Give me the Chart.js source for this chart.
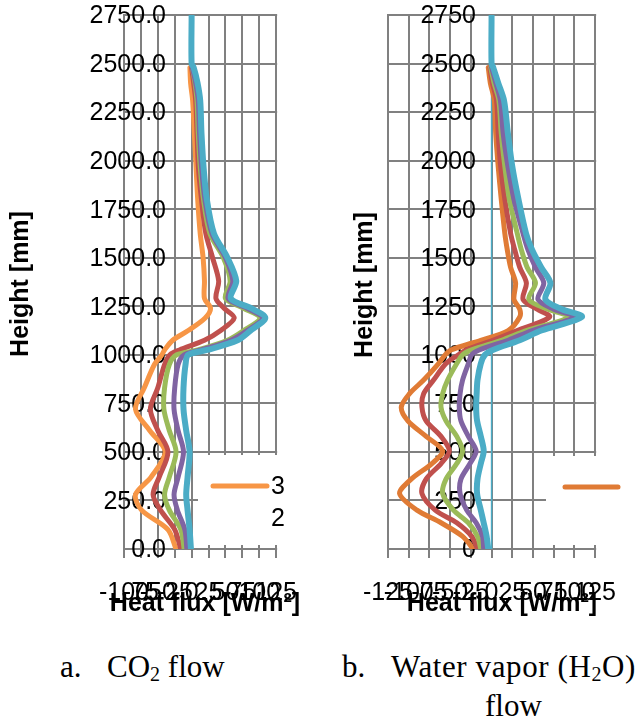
<!DOCTYPE html>
<html>
<head>
<meta charset="utf-8">
<script src="https://cdn.jsdelivr.net/npm/chart.js@4.4.1/dist/chart.umd.min.js"></script>
<style>
  body { margin: 0; background: #fff; width: 639px; height: 719px; position: relative; overflow: hidden; }
  .box { position: absolute; top: 0; height: 640px; }
  #boxA { left: 0; width: 320px; }
  #boxB { left: 320px; width: 319px; }
  .cap { position: absolute; font-family: "Liberation Serif", "Times New Roman", serif; font-size: 31px; line-height: 31px; color: #000; white-space: nowrap; }
  .cap sub { font-size: 20px; vertical-align: -4px; line-height: 0; }
</style>
</head>
<body>
<div class="box" id="boxA"><canvas id="chartA"></canvas></div>
<div class="box" id="boxB"><canvas id="chartB"></canvas></div>
<div class="cap" style="left:60px; top:651px">a.</div>
<div class="cap" style="left:107px; top:651px">CO<sub>2</sub> flow</div>
<div class="cap" style="left:342px; top:651px">b.</div>
<div class="cap" style="left:391px; top:651px; letter-spacing:0.6px">Water vapor (H<sub>2</sub>O)</div>
<div class="cap" style="left:485px; top:690px">flow</div>
<script>
const co2Heights = [0, 100, 200, 280, 370, 500, 610, 720, 830, 950, 1000, 1025, 1075, 1125, 1190, 1240, 1290, 1380, 1500, 1625, 1800, 1970, 2140, 2310, 2400, 2480, 2500, 2750];
// heat flux W/m2, CO2 flow
const co2Orange = [-23, -35, -74, -83, -60, -39, -62, -83, -70, -55, -44, -40, -28, -5, 20, 28, 19, 19, 17, 12.7, 9, 6.5, 4, 1.5, -1.5, -2.5, null, null];
const co2Red = [-16, -25, -46, -57, -48, -35, -50, -61, -50, -40, -32, -18, 19, 43, 63, 48, 36, 40, 31, 21, 14.6, 10, 8, 6, 3, 0, null, null];
const co2Green = [-11, -16, -33, -40, -33, -23, -33, -41, -40, -33, -22, 9, 53, 77, 101, 77, 50, 57, 47, 27, 17.6, 12.7, 9.8, 7.9, 5, 1, null, null];
const co2Purple = [-7, -10, -21, -26, -20, -12, -20, -26, -25, -20, -11, 14, 58, 82, 105, 82, 54, 61, 50, 30, 19.6, 14.6, 11.7, 9.8, 6, 1, null, null];
const co2Cyan = [-1, -3, -6, -8, -6, -3, -8, -12, -12, -9, -5, 23, 68, 87, 109, 88, 58, 66, 53, 33, 22.5, 17.6, 14.6, 12.7, 8.8, 3, 0, 0];

const h2oHeights = [0, 65, 135, 200, 285, 360, 440, 505, 580, 660, 730, 800, 870, 955, 1000, 1025, 1075, 1125, 1195, 1235, 1285, 1370, 1450, 1540, 1625, 1800, 1970, 2140, 2310, 2400, 2480, 2500, 2750];
// heat flux W/m2, water vapour flow
const h2oOrange = [-22, -35, -61, -90, -111, -97, -72, -59, -79, -101, -109, -99, -82, -64, -56, -49, -13, 20, 34, 34, 27, 29, 23, 19, 16, 11.7, 8, 5, 3.3, -1.5, -4, null, null];
const h2oRed = [-17, -24, -42, -68, -84, -79, -61, -51, -61, -79, -84, -82, -70, -55, -40, -31, 1.5, 31, 70, 55, 38, 42, 34, 28, 23, 16, 11, 8, 6, 1, -2, null, null];
const h2oGreen = [-13, -17, -28, -46, -59, -55, -42, -35, -42, -55, -61, -59, -53, -42, -35, -24, 12, 42, 93, 68, 45, 53, 43, 36, 31, 21.5, 16, 11.7, 8.8, 3, -1, null, null];
const h2oPurple = [-9.5, -11, -18.6, -30, -38, -37, -26, -18.6, -28, -37, -39, -38, -35, -28, -24, -15, 20, 49, 100, 75, 56, 63, 53, 44, 38, 27, 19.7, 14, 10.6, 5, 0, null, null];
const h2oCyan = [-4, -6, -9.5, -13, -17.5, -17, -13, -9.5, -13, -17.5, -18.6, -18, -17, -13, -8, 1.5, 34, 60, 109, 85, 65, 71, 60, 49, 41.6, 32.5, 25, 19.7, 15, 8, 2, 0, 0];
// thin line at zero flux in the right chart
const h2oZeroHeights = [0, 2750];
const h2oZeroFlux = [0, 0];

const seriesNames = ['3', '2', '1', '4', '5'];
const heightTicks = [0, 250, 500, 750, 1000, 1250, 1500, 1750, 2000, 2250, 2500, 2750];
const co2FluxTicks = [-100, -75, -50, -25, 0, 25, 50, 75, 100, 125];
const h2oFluxTicks = [-125, -100, -75, -50, -25, 0, 25, 50, 75, 100, 125];

const co2Colors = ['#F79646', '#C0504D', '#9BBB59', '#8064A2', '#4BACC6'];
const h2oColors = ['#E07B35', '#C0504D', '#9BBB59', '#8064A2', '#4BACC6'];
const GRID = '#808080';
const SANS = "'Liberation Sans', Arial, sans-serif";

function points(heights, flux) {
    return heights.map((h, i) => ({ x: flux[i], y: h })).filter(p => p.x !== null);
}

function buildDatasets(heights, seriesList, colors) {
    const sets = seriesList.map((flux, i) => ({
        label: seriesNames[i],
        data: points(heights, flux),
        showLine: true,
        borderColor: colors[i],
        backgroundColor: colors[i],
        borderWidth: i === 4 ? 6 : 5,
        pointRadius: 0,
        tension: 0.3,
        borderJoinStyle: 'round',
        borderCapStyle: 'round'
    }));
    // excel puts the last series on top, chart.js draws dataset 0 on top
    return sets.reverse();
}

// horizontal grid + y tick labels inside the plot, legend box and axis titles on top
const decor = {
    id: 'decor',
    beforeDatasetsDraw(chart, args, o) {
        const ctx = chart.ctx;
        const y = chart.scales.y;
        const area = chart.chartArea;
        ctx.save();
        ctx.fillStyle = GRID;
        heightTicks.forEach(v => {
            const py = Math.round(y.getPixelForValue(v));
            ctx.fillRect(area.left - 1, py - 1, area.right - area.left + 2, 2);
        });
        ctx.fillStyle = '#000';
        ctx.font = '25px ' + SANS;
        ctx.textAlign = 'right';
        ctx.textBaseline = 'middle';
        heightTicks.forEach(v => ctx.fillText(o.yFmt(v), o.yLabelX, y.getPixelForValue(v) + 1.5));
        ctx.restore();
    },
    afterDraw(chart, args, o) {
        const ctx = chart.ctx;
        ctx.save();
        ctx.fillStyle = '#fff';
        ctx.fillRect(o.box[0], o.box[1], o.box[2], o.box[3]);
        const ds = chart.data.datasets.find(d => d.label === seriesNames[0]);
        ctx.strokeStyle = ds.borderColor;
        ctx.lineWidth = 5;
        ctx.lineCap = 'round';
        ctx.beginPath();
        ctx.moveTo(o.sample[0], o.sample[2]);
        ctx.lineTo(o.sample[1], o.sample[2]);
        ctx.stroke();
        ctx.fillStyle = '#000';
        ctx.font = '25px ' + SANS;
        ctx.textAlign = 'left';
        ctx.textBaseline = 'middle';
        o.legendText.forEach((t, i) => ctx.fillText(t, o.textX, o.sample[2] + 1.5 + i * 32));

        ctx.font = 'bold 25px ' + SANS;
        ctx.textAlign = 'center';
        ctx.textBaseline = 'alphabetic';
        ctx.fillText('Heat flux [W/m\u00B2]', o.xTitle[0], o.xTitle[1]);
        ctx.translate(o.yTitle[0], o.yTitle[1]);
        ctx.rotate(-Math.PI / 2);
        ctx.fillText('Height [mm]', 0, 0);
        ctx.restore();
    }
};

function makeChart(id, datasets, fluxTicks, pad, deco) {
    const ctx = document.getElementById(id).getContext('2d');
    return new Chart(ctx, {
        type: 'scatter',
        data: { datasets: datasets },
        plugins: [decor],
        options: {
            animation: false,
            responsive: true,
            maintainAspectRatio: false,
            layout: { padding: pad },
            plugins: {
                legend: { display: false },
                tooltip: { enabled: false },
                decor: deco
            },
            scales: {
                x: {
                    type: 'linear',
                    position: 'bottom',
                    min: fluxTicks[0],
                    max: fluxTicks[fluxTicks.length - 1],
                    afterBuildTicks: s => { s.ticks = fluxTicks.map(v => ({ value: v })); },
                    afterFit: s => { s.height = 60; },
                    grid: { color: GRID, lineWidth: 2, tickLength: 9 },
                    border: { color: GRID, width: 2 },
                    ticks: {
                        autoSkip: false, maxRotation: 0, minRotation: 0, padding: 23,
                        color: '#000', font: { family: SANS, size: 25, lineHeight: 1 },
                        callback: v => String(v)
                    }
                },
                y: {
                    type: 'linear',
                    position: 'left',
                    min: 0,
                    max: 2750,
                    afterBuildTicks: s => { s.ticks = heightTicks.map(v => ({ value: v })); },
                    afterFit: s => { s.width = 0; },
                    grid: { display: false },
                    border: { display: false },
                    ticks: { display: false }
                }
            }
        }
    });
}

makeChart('chartA',
    buildDatasets(co2Heights, [co2Orange, co2Red, co2Green, co2Purple, co2Cyan], co2Colors),
    co2FluxTicks,
    { left: 124, right: 42, top: 15, bottom: 31 },
    { yFmt: v => v.toFixed(1), yLabelX: 166, box: [198, 455, 122, 90], sample: [213, 267, 486], textX: 271,
      legendText: [seriesNames[0], seriesNames[1]], xTitle: [205, 611], yTitle: [28, 284] });

const h2oSets = buildDatasets(h2oHeights, [h2oOrange, h2oRed, h2oGreen, h2oPurple, h2oCyan], h2oColors);
h2oSets.push({
    label: 'zero',
    data: points(h2oZeroHeights, h2oZeroFlux),
    showLine: true,
    borderColor: '#4BACC6',
    borderWidth: 1.5,
    pointRadius: 0
});
makeChart('chartB', h2oSets,
    h2oFluxTicks,
    { left: 68, right: 23, top: 15, bottom: 31 },
    { yFmt: v => String(v), yLabelX: 156, box: [226, 456, 93, 89], sample: [245, 298, 487], textX: 400,
      legendText: [], xTitle: [182, 611], yTitle: [52, 285] });
</script>
</body>
</html>
